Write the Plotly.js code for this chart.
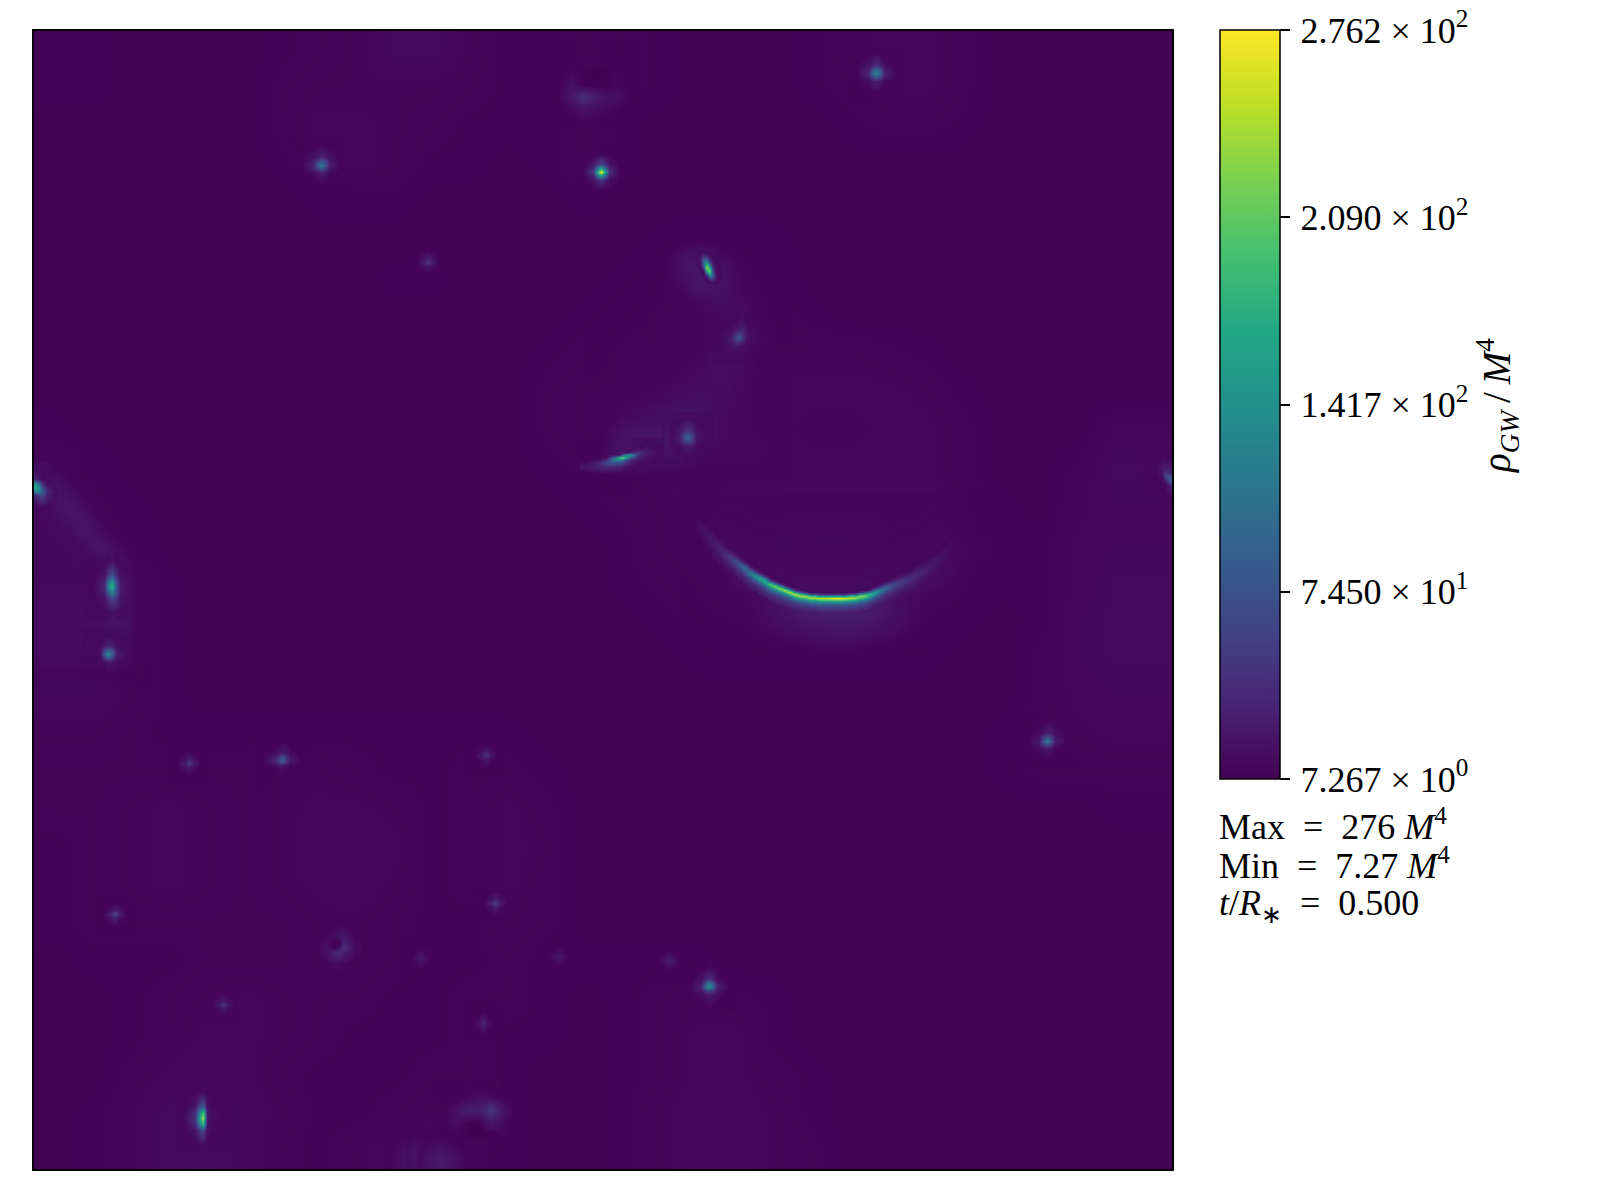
<!DOCTYPE html>
<html><head><meta charset="utf-8">
<script src="https://cdn.plot.ly/plotly-3.0.1.min.js"></script>
<style>html,body{margin:0;padding:0;background:#fff}</style></head>
<body><div id="plot" style="width:1600px;height:1200px"></div>
<script>
const zMin = 7.267, zMax = 276.2;
const tickValues = [7.267, 74.50, 141.7, 209.0, 276.2];
const tickLabels = ['\u200a7.267 × 10<sup>0</sup>','\u200a7.450 × 10<sup>1</sup>','\u200a1.417 × 10<sup>2</sup>','\u200a2.090 × 10<sup>2</sup>','\u200a2.762 × 10<sup>2</sup>'];

// coarse background field, rows top to bottom
const baseField = [
[9,9,8,8,8,8,9,10,11,14,14,11,9,9,11,10,9,8,8,8,9,11,12,12,10,8,8,8,8,8],
[9,9,8,8,8,8,10,11,11,11,11,10,9,9,12,10,9,8,8,8,9,10,12,12,10,8,8,8,8,8],
[8,8,8,8,8,8,10,12,12,11,10,9,9,9,11,9,8,8,8,8,8,9,10,10,9,8,8,8,8,8],
[8,8,8,8,8,8,9,12,12,11,9,9,8,9,11,9,8,8,8,8,8,8,8,8,8,8,8,8,8,8],
[8,8,8,8,8,8,8,9,9,9,8,8,8,8,9,8,8,8,8,8,8,8,8,8,8,8,8,8,8,8],
[8,8,8,8,8,8,8,8,8,8,8,8,8,8,8,8,9,10,10,9,8,8,8,8,8,8,8,8,8,8],
[8,8,8,8,8,8,8,8,8,9,9,8,8,8,8,9,10,11,11,10,8,8,8,8,8,8,8,8,8,8],
[8,8,8,8,8,8,8,8,8,8,8,8,8,8,9,10,11,11,12,10,9,8,8,8,8,8,8,8,8,8],
[8,8,8,8,8,8,8,8,8,8,8,8,8,9,10,11,11,12,12,11,11,11,10,9,8,8,8,8,8,8],
[8,8,8,8,8,8,8,8,8,8,8,8,8,10,11,11,12,12,12,12,12,12,12,11,9,8,8,8,8,8],
[9,8,8,8,8,8,8,8,8,8,8,8,8,10,11,11,12,12,12,12,11,11,12,12,10,8,8,8,12,12],
[12,10,8,8,8,8,8,8,8,8,8,8,8,9,10,11,12,12,12,12,12,12,12,12,10,8,8,10,14,14],
[14,12,9,8,8,8,8,8,8,8,8,8,8,8,9,10,11,12,13,13,13,13,13,13,11,9,8,11,13,13],
[15,14,11,8,8,8,8,8,8,8,8,8,8,8,8,9,11,12,13,13,14,14,13,13,12,9,9,12,13,13],
[15,15,12,9,8,8,8,8,8,8,8,8,8,8,8,9,10,11,12,13,14,14,14,12,11,9,9,12,14,14],
[15,15,12,9,8,8,8,8,8,8,8,8,8,8,8,8,9,10,11,11,12,12,11,10,9,8,9,13,14,14],
[14,14,12,9,8,8,8,8,8,8,8,8,8,8,8,8,8,9,9,9,9,9,9,9,8,8,10,13,14,14],
[13,13,11,9,8,8,8,8,8,8,8,8,8,8,8,8,8,8,8,8,8,8,8,8,8,8,10,12,13,13],
[11,11,10,9,9,9,9,9,9,9,9,9,9,8,8,8,8,8,8,8,8,8,8,8,8,9,11,11,12,12],
[10,10,10,10,10,10,11,11,10,9,9,10,10,9,8,8,8,8,8,8,8,8,8,8,8,9,10,10,10,10],
[10,10,11,12,11,10,11,12,12,11,9,10,12,10,8,8,8,8,8,8,8,8,8,8,8,8,8,8,9,9],
[9,10,11,12,11,10,11,13,13,12,9,10,12,11,8,8,8,8,8,8,8,8,8,8,8,8,8,8,8,8],
[9,10,11,12,11,10,11,12,13,11,9,10,12,10,8,8,8,8,8,8,8,8,8,8,8,8,8,8,8,8],
[9,10,10,10,10,10,10,11,11,10,9,9,11,10,8,8,8,8,8,8,8,8,8,8,8,8,8,8,8,8],
[8,9,9,9,10,10,10,11,11,10,9,9,10,9,9,9,9,9,8,8,8,8,8,8,8,8,8,8,8,8],
[8,8,9,10,11,12,11,10,10,9,9,10,10,9,8,9,10,11,10,9,8,8,8,8,8,8,8,8,8,8],
[8,8,9,10,12,12,11,10,9,9,9,10,9,9,8,9,10,12,12,9,8,8,8,8,8,8,8,8,8,8],
[8,8,10,12,13,12,10,9,9,9,10,10,9,8,8,9,10,12,12,10,9,8,8,8,8,8,8,8,8,8],
[8,9,11,14,14,13,11,9,9,10,11,11,9,8,8,9,11,13,13,11,9,8,8,8,8,8,8,8,8,8],
[8,9,11,14,15,13,10,9,11,13,14,12,9,8,8,9,11,13,13,11,10,8,8,8,8,8,8,8,8,8]
];

// main arc: one list per column, first entry is the top row's y, then values every 2 rows
const arcCols = [
[516,9,10,11,13,15,16,16,15,14,13,12,11,10,9],
[520,9,10,12,14,17,20,21,20,18,16,15,13,12,11],
[526,10,11,13,16,20,24,25,23,21,19,17,15,13,12],
[532,10,12,15,18,23,27,28,26,24,22,20,18,16,14],
[536,10,12,15,19,24,30,34,33,30,27,24,21,18,16],
[542,10,12,16,21,30,38,42,40,35,30,26,22,19,16],
[546,10,12,17,26,40,52,54,46,39,33,28,24,20,17],
[550,10,12,18,30,50,68,68,54,44,36,30,26,22,18],
[554,10,12,18,34,62,86,84,64,50,40,33,28,23,19],
[558,10,12,20,44,84,105,92,70,54,43,35,29,24,20],
[562,10,12,18,40,82,122,112,84,62,48,38,31,26,21],
[564,10,10,14,26,64,120,150,118,84,62,47,37,30,25],
[568,10,12,20,50,115,170,150,105,74,56,44,35,28,23],
[570,9,10,14,34,95,165,180,135,92,68,52,41,33,27],
[574,9,10,16,42,120,210,175,118,84,62,48,38,31,26],
[576,9,10,16,42,125,225,185,125,88,64,49,38,31,26],
[578,9,10,15,42,130,235,190,128,90,65,50,39,32,26],
[580,9,10,14,42,135,245,195,130,90,66,50,40,32,26],
[582,8,9,13,42,140,255,200,132,92,66,50,40,32,26],
[584,8,9,13,42,140,255,200,132,92,66,50,40,32,26],
[586,8,9,14,70,195,235,175,118,82,60,46,36,29,24],
[586,8,9,12,40,140,245,195,130,90,66,50,40,32,26],
[588,8,9,14,70,195,235,170,115,80,58,45,36,29,24],
[588,8,9,14,70,195,238,170,115,80,58,45,36,29,24],
[588,8,9,12,40,140,245,195,130,90,66,50,40,32,26],
[588,8,9,12,40,142,250,198,132,90,66,50,40,32,26],
[588,8,9,12,40,145,255,200,132,92,66,50,40,32,26],
[588,8,9,12,42,150,265,205,135,92,66,50,40,32,26],
[588,8,9,12,42,150,265,205,135,92,66,50,40,32,26],
[588,8,9,12,40,145,255,200,132,92,66,50,40,32,26],
[588,8,9,14,72,198,240,175,118,82,60,46,36,29,24],
[588,8,9,14,70,192,232,170,115,80,58,45,36,29,24],
[586,8,9,12,40,135,235,190,128,88,64,49,39,32,26],
[586,8,9,14,65,180,220,165,112,78,57,44,35,28,23],
[584,8,9,12,38,115,190,150,105,74,54,42,33,27,22],
[582,8,9,14,36,98,160,128,92,66,50,39,31,25,21],
[580,9,10,16,36,84,130,108,80,60,46,36,29,24,20],
[578,9,11,20,42,78,100,82,62,48,38,31,26,21,18],
[576,10,12,22,38,62,80,68,54,43,35,28,24,20,17],
[574,10,13,22,35,52,65,56,46,38,32,27,22,19,16],
[572,10,13,21,32,45,55,49,41,35,29,25,21,18,15],
[570,10,13,20,29,40,48,44,37,32,27,23,20,17,15],
[568,10,13,19,27,36,42,39,34,29,25,21,18,16,14],
[564,10,12,16,22,30,36,38,35,31,27,23,20,17,15],
[560,10,12,15,20,27,32,34,32,28,25,21,18,16,14],
[558,10,11,14,19,24,28,30,29,26,23,20,17,15,13],
[554,10,11,14,18,22,25,27,26,24,21,18,16,14,13],
[550,10,11,13,16,20,23,24,23,21,19,17,15,14,12],
[546,10,11,13,15,17,19,20,19,18,16,15,13,12,11],
[540,9,10,11,13,14,16,17,17,16,15,13,12,11,10],
[534,9,10,11,12,13,14,14,14,13,12,11,10,10,9],
[528,8,9,10,11,11,12,12,12,11,11,10,9,9,8]
];

const arcHalo = [
[8,9,10,10,10,10,10,10,10,10,10,10,10,10,10,10,10,9,8],
[8,10,11,11,10,10,10,10,10,10,10,10,10,10,10,11,11,10,8],
[9,11,12,11,11,11,11,10,10,10,10,10,10,11,11,11,12,11,9],
[9,11,12,12,11,11,11,11,11,11,11,11,11,11,11,12,13,12,9],
[9,11,12,14,12,12,12,12,12,12,12,12,12,12,12,13,14,12,9],
[8,10,11,14,16,14,13,12,12,12,12,13,13,14,16,15,13,10,8],
[8,9,9,11,13,16,22,22,20,20,20,22,20,15,13,11,10,9,8],
[8,8,9,10,12,15,20,25,28,30,30,28,22,16,13,11,9,8,8],
[8,8,8,9,11,13,15,18,20,22,22,20,17,14,11,9,8,8,8],
[8,8,8,8,9,10,11,12,13,13,13,12,11,10,9,8,8,8,8],
[8,8,8,8,8,8,8,8,9,9,9,9,8,8,8,8,8,8,8]
];
const leftHalo = [
[20,12,9,8,8,8,8,8],[32,24,12,9,8,8,8,8],[18,26,20,12,9,8,8,8],[12,15,22,18,11,9,8,8],
[12,13,15,22,16,10,8,8],[12,12,13,15,22,16,10,8],[12,12,12,13,15,24,15,9],[12,12,12,12,14,26,20,9],
[13,13,13,13,14,28,24,9],[14,14,14,14,15,20,20,9],[14,14,14,14,15,18,18,9],[14,14,14,14,15,20,18,9],
[14,14,14,14,16,20,18,9],[13,13,13,13,14,16,14,9],[8,8,8,8,8,8,8,8]
];
const midHalo = [
[8,8,8,8,8,8,8,8,8,8],[8,8,8,8,18,30,16,10,8,8],[8,8,8,9,14,26,20,12,9,8],[8,8,8,9,10,13,16,13,10,8],
[8,8,8,9,10,11,13,17,12,8],[8,9,9,9,10,11,14,20,14,8],[8,9,9,10,10,12,16,14,11,8],[8,10,10,11,12,14,16,13,11,8],
[8,11,12,13,15,17,14,12,11,8],[9,13,15,18,22,18,13,12,11,8],[10,20,24,26,28,18,13,12,12,8],
[12,24,24,18,16,13,12,12,12,8],[8,8,8,8,8,8,8,8,8,8]
];

// sample offsets for the small local fields
const off7 = [-20,-8,-3.5,0,3.5,8,20];
const offTight = [-18,-8,-3,0,3,8,18];
const off5 = [-12,-4,0,4,12];
const off11 = [-15,-12,-9,-6,-3,0,3,6,9,12,15];
const offLong = [-26,-12,-6,0,6,12,26];
const offWide = [-36,-24,-16,-8,-3,0,3,8,16,24,36];
const offFlat = [-16,-9,-5,-2.5,0,2.5,5,9,16];
const offRing = [-36,-24,-12,0,12,24,36];
const offSoft = [-26,-10,0,10,26];
const offEdgeLeft = [-4,0,4,9,20];
const offEdgeRight = [-20,-8,-3.5,0,3.5,7];
const offBottomA = [-26,-14,-6,0,10];
const offBottomB = [-26,-12,-5,0,6];

const spotTopRight = [[8,9,9,10,9,9,8],[9,20,32,40,30,18,9],[9,32,80,105,76,30,9],[9,36,98,135,95,32,9],[9,28,62,82,60,26,9],[9,15,24,28,22,14,9],[8,8,9,9,9,8,8]];
const spotUpperLeft = [[8,9,9,10,9,9,8],[9,18,28,34,28,18,9],[9,28,68,88,66,28,9],[9,34,88,115,82,30,9],[9,26,55,66,50,22,9],[9,14,20,24,20,13,9],[8,8,9,9,9,8,8]];
const spotBright = [[8,9,10,10,10,9,8],[9,22,44,58,44,20,9],[10,42,135,190,130,38,10],[10,54,195,276,185,46,10],[10,36,120,170,115,32,9],[9,18,34,42,32,16,9],[8,9,9,10,9,9,8]];
const spotFaintA = [[8,9,9,9,8],[9,18,28,18,9],[9,30,48,28,9],[9,18,26,17,9],[8,8,9,8,8]];
const streakUpper = [
[8,8,9,12,18,16,12,9,8,8,8],[8,9,13,22,38,36,20,12,9,8,8],[8,9,14,28,70,70,30,14,10,8,8],
[8,9,13,26,110,135,50,18,11,9,8],[8,8,12,22,105,195,100,28,13,9,8],[8,8,10,16,66,240,165,42,15,10,8],
[8,8,9,12,22,180,215,70,18,11,8],[8,8,8,10,12,76,190,90,24,12,9],[8,8,8,8,10,16,100,76,26,13,9],
[8,8,8,8,9,11,36,48,22,12,8],[8,8,8,8,8,8,12,18,14,9,8]
];
const spotUpperMid = [[8,9,10,12,14,10,8],[8,16,24,32,34,18,9],[9,22,52,66,40,20,9],[9,28,62,78,44,20,9],[9,26,42,40,26,15,9],[9,18,22,20,15,12,8],[8,9,9,9,9,8,8]];
const spotLowerMid = [[8,10,12,14,12,10,8],[9,24,40,46,36,20,9],[9,28,66,78,56,24,9],[9,30,76,90,62,24,9],[9,24,50,58,42,20,9],[9,16,24,26,22,14,9],[8,8,9,9,9,8,8]];
const streakLower = [
[8,8,8,8,8,8,8,9,10,12,10],[8,8,8,8,8,9,10,9,12,20,16],[8,8,8,9,9,8,8,30,50,30,16],[8,9,9,10,10,60,125,150,40,24,14],
[9,10,14,100,175,225,175,90,28,20,12],[10,14,40,120,130,120,80,40,22,16,10],[14,30,70,75,70,60,42,28,17,13,9],[20,34,38,36,32,26,20,15,11,9,8],[8,9,9,9,9,8,8,8,8,8,8]
];
const spotLeftEdge = [[12,10,9,9,8],[34,26,14,11,8],[150,120,40,18,8],[170,150,70,24,8],[120,130,95,36,9],[30,50,62,30,9],[9,10,12,11,8]];
const spotLeftLong = [[8,9,14,18,12,9,8],[9,20,48,62,36,16,9],[9,30,105,125,62,22,9],[9,34,150,175,80,26,9],[9,30,100,130,70,28,9],[9,22,48,62,48,24,9],[8,9,14,18,16,11,8]];
const spotLeftLow = [[8,9,10,11,10,9,8],[9,15,28,36,30,18,9],[8,16,72,100,72,26,9],[8,18,95,135,90,30,9],[8,12,50,72,55,24,9],[8,9,16,22,22,15,9],[8,8,8,9,9,8,8]];
const spotRightEdge = [[9,11,13,12,11,10],[9,13,24,30,26,18],[9,12,22,55,50,34],[8,10,16,50,90,70],[8,9,13,24,70,80],[8,9,10,14,26,40],[8,8,9,9,11,12]];
const spotRightLow = [[8,9,9,10,10,9,8],[9,14,22,30,26,16,9],[9,20,62,85,56,22,9],[9,26,85,115,75,26,9],[9,20,48,62,44,18,9],[9,13,18,22,18,12,9],[8,8,9,9,9,8,8]];
const spotFaintB = [[8,8,9,8,8],[8,18,30,18,8],[9,30,55,28,9],[8,18,26,15,8],[8,8,9,8,8]];
const spotFlatC = [[8,8,9,9,9,8,8],[9,14,20,26,22,14,9],[9,28,60,84,50,24,9],[9,30,66,88,46,22,9],[9,15,24,26,18,12,9],[8,10,12,13,11,9,8],[8,8,8,8,8,8,8]];
const spotFaintD = [[8,8,9,8,8],[8,18,28,16,8],[9,28,50,24,9],[8,16,24,14,8],[8,8,9,8,8]];
const spotFaintE = [[8,8,9,8,8],[8,18,28,20,8],[9,36,65,30,9],[8,20,30,16,8],[8,8,9,8,8]];
const spotFaintF = [[8,9,9,9,8],[9,18,30,20,9],[9,32,60,30,9],[9,18,28,18,9],[8,9,9,9,8]];
const spotDimA = [[8,8,8,8,8],[8,14,18,14,8],[8,18,25,18,8],[8,14,17,13,8],[8,8,8,8,8]];
const spotDimB = [[8,8,8,8,8],[8,14,18,14,8],[8,19,26,18,8],[8,13,16,13,8],[8,8,8,8,8]];
const spotDimC = [[8,8,8,8,8],[8,15,21,16,8],[8,22,32,21,8],[8,14,19,15,8],[8,8,8,8,8]];
const spotLowerCentre = [[8,9,10,12,10,9,8],[9,18,32,44,30,16,9],[9,28,92,125,82,26,9],[9,34,105,135,92,30,9],[9,22,44,52,40,20,9],[9,15,20,24,20,14,9],[8,8,9,9,9,8,8]];
const spotFaintG = [[8,8,9,8,8],[8,18,28,18,8],[9,28,50,26,9],[8,16,22,14,8],[8,8,9,8,8]];
const spotFaintH = [[8,8,9,8,8],[8,15,26,15,8],[9,18,36,18,9],[8,15,24,14,8],[8,8,9,8,8]];
const spotBottomLeft = [[8,9,12,14,10,9,8],[9,22,62,72,18,13,9],[9,38,135,195,24,15,9],[10,48,175,235,22,16,9],[9,38,130,180,22,15,9],[9,22,56,66,18,13,9],[8,9,12,13,10,9,8]];
const ringDark = [[8,9,9,10,10,9,8],[9,13,15,16,20,24,10],[9,14,10,8,10,30,12],[9,16,8,8,9,36,14],[9,20,14,10,22,44,14],[9,18,30,36,40,30,12],[8,10,12,13,13,11,8]];
const ringBottom = [[8,8,8,8,8,8,8],[8,9,9,9,9,9,8],[9,12,9,8,9,10,8],[9,20,8,8,8,11,9],[9,22,45,26,18,16,9],[8,13,18,16,13,11,8],[8,9,10,10,9,9,8]];
const ringTop = [[8,8,9,9,9,8,8],[8,9,12,16,14,10,8],[9,16,30,30,48,20,9],[9,16,9,8,24,14,9],[9,11,8,8,8,12,9],[8,9,9,9,9,9,8],[8,8,8,8,8,8,8]];
const bottomGlowA = [[8,8,9,8,8],[9,14,18,15,9],[9,18,23,18,9],[9,18,24,18,9],[9,17,22,17,9]];
const bottomGlowB = [[8,9,9,9,8],[9,16,20,16,9],[9,20,26,20,9],[9,20,26,20,9],[9,18,24,18,9]];

// dark cores
const holeOff = [-20,-12,-8,0,8,12,20];
const holeA = [[13,13,13,13,13,13,13],[13,10,8,7.3,8,10,13],[13,8,7.3,7.3,7.3,8,13],[13,7.3,7.3,7.3,7.3,7.3,13],[13,8,7.3,7.3,7.3,8,13],[13,10,8,7.3,8,10,13],[13,13,13,13,13,13,13]];
const holeSmallOff = [-12,-8,-4,0,4,8,12];
const holeB = [[13,13,13,13,13,13,13],[13,13,11,10,11,13,13],[13,11,8,7.3,8,11,13],[13,10,7.3,7.3,7.3,10,13],[13,11,8,7.3,8,11,13],[13,13,11,10,11,13,13],[13,13,13,13,13,13,13]];

// [values, centre x, centre y, x samples, y samples]
const spotList = [
[spotTopRight,876,73,off7,off7],[spotUpperLeft,321,165,off7,off7],[spotBright,601,172,offTight,offTight],[spotFaintA,428,262,off5,off5],
[streakUpper,706,267,off11,off11],[spotUpperMid,739,338,off7,off7],[spotLowerMid,688,438,off7,off7],[streakLower,622,457,offWide,offFlat],
[spotLeftEdge,38,487,offEdgeLeft,off7],[spotLeftLong,112,586,off7,offLong],[spotLeftLow,108,654,off7,off7],[spotRightEdge,1165,477,offEdgeRight,off7],
[spotRightLow,1047,741,off7,off7],[spotFaintB,189,763,off5,off5],[spotFlatC,282,761,off7,off7],[spotFaintD,486,755,off5,off5],
[spotFaintE,115,914,off5,off5],[spotFaintF,495,903,off5,off5],[spotDimA,421,958,off5,off5],[spotDimB,559,957,off5,off5],
[spotDimC,669,961,off5,off5],[spotLowerCentre,709,987,off7,off7],[spotFaintG,223,1005,off5,off5],[spotFaintH,483,1023,off5,off5],
[spotBottomLeft,203,1118,off7,offLong],[ringDark,335,944,off7,off7],[ringBottom,595,85,offRing,offRing],[ringTop,479,1122,offRing,offRing],
[bottomGlowA,415,1158,offSoft,offBottomA],[bottomGlowB,440,1162,offSoft,offBottomB]
];
const holeList = [[holeA,595,83,holeOff,holeOff],[holeA,479,1122,holeOff,holeOff],[holeB,335,944,holeSmallOff,holeSmallOff]];

const viridis = [[0,'#440154'],[0.1,'#482475'],[0.2,'#414487'],[0.3,'#355f8d'],[0.4,'#2a788e'],[0.5,'#21918c'],[0.6,'#22a884'],[0.7,'#44bf70'],[0.8,'#7ad151'],[0.9,'#bddf26'],[1,'#fde725']];
const glowScale = [[0,'rgba(68,1,84,0)'],[0.025,'rgba(70,11,94,1)']].concat(viridis.slice(1));
const holeScale = [[0,'rgba(68,1,84,1)'],[0.006,'rgba(68,1,84,1)'],[0.022,'rgba(68,1,84,0)'],[1,'rgba(68,1,84,0)']];

const hm = {type:'heatmap', zsmooth:'best', hoverinfo:'skip'};
const traces = [Object.assign({}, hm, {z:baseField, x0:53, dx:37.93, y0:50, dy:37.93, coloraxis:'coloraxis'})];
traces.push(Object.assign({}, hm, {z:arcHalo, x0:690, dx:16, y0:500, dy:16, coloraxis:'coloraxis2'}));
traces.push(Object.assign({}, hm, {z:leftHalo, x0:41, dx:14, y0:470, dy:15, coloraxis:'coloraxis2'}));
traces.push(Object.assign({}, hm, {z:midHalo, x0:600, dx:20, y0:240, dy:20, coloraxis:'coloraxis2'}));
holeList.forEach(h => traces.push(Object.assign({}, hm, {z:h[0], x:h[3].map(d=>h[1]+d), y:h[4].map(d=>h[2]+d), coloraxis:'coloraxis3'})));

const arcRows = 51;
const arcField = Array.from({length:arcRows}, () => arcCols.map(() => null));
arcCols.forEach((c,i) => c.slice(1).forEach((v,j) => { arcField[(c[0]-516)/2 + j][i] = v; }));
traces.push(Object.assign({}, hm, {z:arcField, x0:700, dx:5, y0:516, dy:2, coloraxis:'coloraxis2'}));
spotList.forEach(s => traces.push(Object.assign({}, hm, {z:s[0], x:s[3].map(d=>s[1]+d), y:s[4].map(d=>s[2]+d), coloraxis:'coloraxis2'})));

const F = 'Liberation Serif, serif';
const paperX = X => (X-34)/1138, paperY = Y => 1-(Y-31)/1138;
const note = (text,X,Y) => ({text, x:paperX(X), y:paperY(Y), xref:'paper', yref:'paper', xanchor:'left', yanchor:'middle', showarrow:false, font:{family:F,size:36,color:'#000'}});
const axisStyle = {showline:true, mirror:true, linecolor:'#000', linewidth:2, ticks:'', showticklabels:false, showgrid:false, zeroline:false};

const layout = {
  width:1600, height:1200, paper_bgcolor:'#fff', plot_bgcolor:'#440154', showlegend:false,
  margin:{l:34,r:428,t:31,b:31,pad:0},
  xaxis:Object.assign({range:[34,1172]}, axisStyle),
  yaxis:Object.assign({range:[1169,31]}, axisStyle),
  font:{family:F,color:'#000'},
  coloraxis:{cmin:zMin, cmax:zMax, colorscale:viridis, colorbar:{
    x:paperX(1220), xanchor:'left', xpad:0, y:paperY(30), yanchor:'top', ypad:0, len:749/1138, lenmode:'fraction',
    thickness:60, thicknessmode:'pixels', outlinecolor:'#000', outlinewidth:1.5,
    tickmode:'array', tickvals:tickValues, ticktext:tickLabels, ticks:'outside', ticklen:10, tickwidth:1.5, tickcolor:'#000',
    tickfont:{family:F,size:36,color:'#000'}
  }},
  coloraxis2:{cmin:zMin, cmax:zMax, colorscale:glowScale, showscale:false},
  coloraxis3:{cmin:zMin, cmax:zMax, colorscale:holeScale, showscale:false},
  annotations:[
    note('Max  =  276 <i>M</i><sup>4</sup>',1217,824),
    note('Min  =  7.27 <i>M</i><sup>4</sup>',1217,863),
    note('<i>t</i>/<i>R</i><sub>∗</sub>  =  0.500',1217,905),
    {text:'<i>ρ</i><sub><i>GW</i></sub>\u2009/\u2009<i>M</i><sup>4</sup>', x:paperX(1497), y:paperY(406), xref:'paper', yref:'paper', xanchor:'center', yanchor:'middle', textangle:-90, showarrow:false, font:{family:F,size:39,color:'#000'}}
  ]
};
Plotly.newPlot('plot', traces, layout, {displayModeBar:false, responsive:false});
</script></body></html>
